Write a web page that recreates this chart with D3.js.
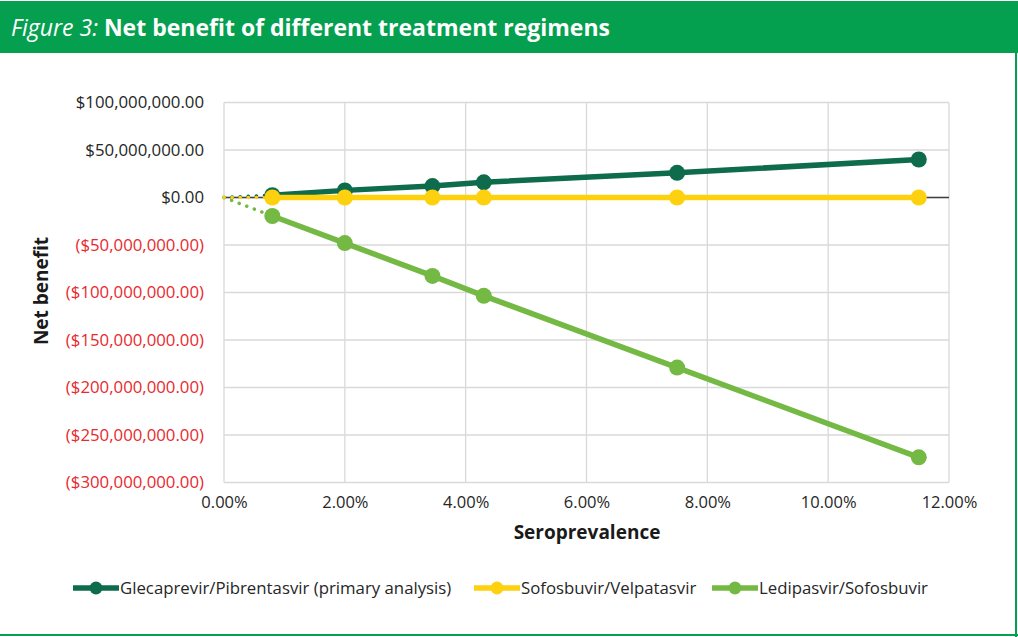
<!DOCTYPE html>
<html><head><meta charset="utf-8">
<script src="https://cdn.jsdelivr.net/npm/d3@7"></script>
<style>body{margin:0;background:#fff;} svg{display:block;font-family:"Open Sans",sans-serif;}</style>
</head><body>
<svg id="c" width="1018" height="637"></svg>
<script>
const seroprevalence = [0.008, 0.02, 0.0345, 0.043, 0.075, 0.115];
const glecaprevir = [2.5e6, 7.5e6, 12e6, 16e6, 26e6, 40e6];
const sofosbuvirVel = [0, 0, 0, 0, 0, 0];
const ledipasvir = [-19.5e6, -48e6, -82.5e6, -103.5e6, -179e6, -273.5e6];
const seriesNames = ["Glecaprevir/Pibrentasvir (primary analysis)", "Sofosbuvir/Velpatasvir", "Ledipasvir/Sofosbuvir"];
const seriesColors = ["#0e6b4c", "#fdd10f", "#74b944"];
const yTicks = [100e6, 50e6, 0, -50e6, -100e6, -150e6, -200e6, -250e6, -300e6];
const xTicks = [0, 0.02, 0.04, 0.06, 0.08, 0.10, 0.12];

const svg = d3.select("#c");
// frame
svg.append("rect").attr("x",0).attr("y",1).attr("width",1018).attr("height",52).attr("fill","#04a04f");
svg.append("line").attr("x1",1016).attr("x2",1016).attr("y1",53).attr("y2",637).attr("stroke","#04a04f").attr("stroke-width",2);
svg.append("line").attr("x1",0).attr("x2",1018).attr("y1",635).attr("y2",635).attr("stroke","#04a04f").attr("stroke-width",2);
const t = svg.append("text").attr("x",11).attr("y",36).attr("fill","#fff").attr("font-size",23);
t.append("tspan").attr("font-style","italic").text("Figure 3: ");
t.append("tspan").attr("font-weight","bold").text("Net benefit of different treatment regimens");

const x = d3.scaleLinear().domain([0,0.12]).range([224,949]);
const y = d3.scaleLinear().domain([-300e6,100e6]).range([482.5,102.5]);

// gridlines
const g = svg.append("g");
g.selectAll(".hg").data(yTicks).join("line").attr("x1",224).attr("x2",949)
 .attr("y1",d=>y(d)).attr("y2",d=>y(d)).attr("stroke","#d9d9d9").attr("stroke-width",1.3);
g.selectAll(".vg").data(xTicks).join("line").attr("y1",102.5).attr("y2",482.5)
 .attr("x1",d=>x(d)).attr("x2",d=>x(d)).attr("stroke","#d9d9d9").attr("stroke-width",1.3);
// zero axis
g.append("line").attr("x1",224).attr("x2",949).attr("y1",y(0)).attr("y2",y(0)).attr("stroke","#404040").attr("stroke-width",1.3);

// axes labels
const fmtMoney = d => {
  const s = "$" + d3.format(",.2f")(Math.abs(d));
  return d < 0 ? "(" + s + ")" : s;
};
const yAxis = d3.axisLeft(y).tickValues(yTicks).tickFormat(fmtMoney).tickSize(0).tickPadding(20);
const ya = svg.append("g").attr("transform","translate(224,0)").call(yAxis);
ya.select(".domain").remove();
ya.selectAll("text").attr("font-size",16.8).attr("font-family","Open Sans, sans-serif")
  .attr("fill",d=>d<0?"#e8292e":"#262626");
const xAxis = d3.axisBottom(x).tickValues(xTicks).tickFormat(d3.format(".2%")).tickSize(0).tickPadding(14);
const xa = svg.append("g").attr("transform","translate(0,482.5)").call(xAxis);
xa.select(".domain").remove();
xa.selectAll("text").attr("font-size",16.5).attr("font-family","Open Sans, sans-serif").attr("fill","#262626");

svg.append("text").attr("x",587).attr("y",539).attr("text-anchor","middle").attr("font-weight","bold")
  .attr("font-size",19).attr("fill","#1a1a1a").text("Seroprevalence");
svg.append("text").attr("transform","translate(48,291) rotate(-90)").attr("text-anchor","middle")
  .attr("font-weight","bold").attr("font-size",19).attr("fill","#1a1a1a").text("Net benefit");

// series
const allSeries = [glecaprevir, sofosbuvirVel, ledipasvir];
const line = d3.line().x(d=>x(d[0])).y(d=>y(d[1]));
const order = [0,2,1];
// dotted lead-ins
order.forEach(i=>{
  const vals = allSeries[i];
  svg.append("path").attr("d", line([[0,0],[seroprevalence[0], vals[0]]]))
    .attr("fill","none").attr("stroke",seriesColors[i]).attr("stroke-width",3.5)
    .attr("stroke-dasharray","0.1 8").attr("stroke-linecap","round");
});
order.forEach(i=>{
  const vals = allSeries[i];
  const pts = seroprevalence.map((s,j)=>[s, vals[j]]);
  svg.append("path").attr("d", line(pts)).attr("fill","none").attr("stroke",seriesColors[i]).attr("stroke-width",5.5);
  svg.selectAll(null).data(pts).join("circle").attr("cx",d=>x(d[0])).attr("cy",d=>y(d[1])).attr("r",8)
    .attr("fill",seriesColors[i]);
});

// legend
const legX = [73, 474, 712];
seriesNames.forEach((n,i)=>{
  const lg = svg.append("g").attr("transform",`translate(${legX[i]},588)`);
  lg.append("line").attr("x1",0).attr("x2",46).attr("y1",0).attr("y2",0).attr("stroke",seriesColors[i]).attr("stroke-width",5.5);
  lg.append("circle").attr("cx",23).attr("cy",0).attr("r",6.5).attr("fill",seriesColors[i]);
  lg.append("text").attr("x",47).attr("y",6).attr("font-size",16.8).attr("fill","#262626").text(n);
});
</script>
</body></html>
